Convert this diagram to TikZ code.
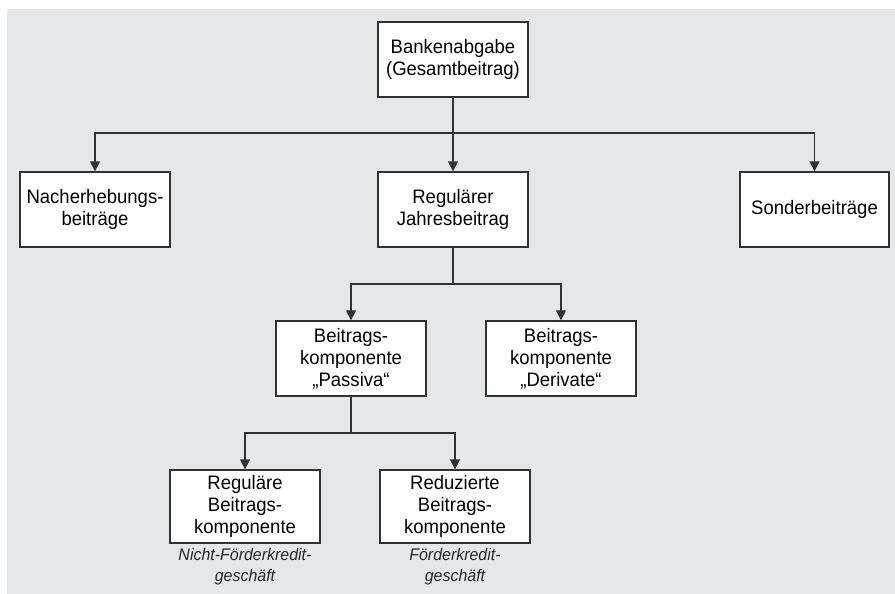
\documentclass[tikz,border=0pt]{standalone}
\usepackage{fontspec}
\setmainfont{Liberation Sans}[FakeStretch=0.95]
\usetikzlibrary{arrows.meta}
\definecolor{bggray}{RGB}{230,231,233}
\definecolor{linegray}{RGB}{50,50,50}
\tikzset{
  box/.style={draw=linegray, line width=1.3pt, fill=white, minimum width=150pt, minimum height=75pt,
    align=center, inner xsep=1pt, inner ysep=2pt, font=\fontsize{19.5}{22}\selectfont, text=black},
  conn/.style={draw=linegray, line width=1.3pt},
  arr/.style={conn, -{Triangle[width=10pt,length=10pt]}},
  note/.style={align=center, font=\fontsize{16.8}{21.5}\selectfont\itshape, text=black!85, inner sep=0pt}
}
\begin{document}
\begin{tikzpicture}[x=1pt,y=-1pt]
\useasboundingbox (0,0) rectangle (895,594);
\fill[bggray] (7,9) rectangle (895,594);

\node[box] (top) at (453,59.5) {Bankenabgabe\\(Gesamtbeitrag)};
\node[box] (nach) at (95,209.5) {Nacherhebungs-\\beiträge};
\node[box] (reg) at (453,209.5) {Regulärer\\Jahresbeitrag};
\node[box, minimum width=149pt] (sond) at (814.5,209.5) {Sonderbeiträge};
\node[box] (pass) at (351,358.5) {Beitrags-\\komponente\\„Passiva“};
\node[box] (deri) at (561,358.5) {Beitrags-\\komponente\\„Derivate“};
\node[box, minimum height=73pt] (regk) at (245,506.5) {Reguläre\\Beitrags-\\komponente};
\node[box, minimum height=73pt] (redk) at (455,506.5) {Reduzierte\\Beitrags-\\komponente};
\node[note, anchor=north] (n1) at (245,548) {Nicht-Förderkredit-\\geschäft};
\node[note, anchor=north] (n2) at (455,548) {Förderkredit-\\geschäft};

\coordinate (j1) at (453,133);
\coordinate (j2) at (453,284);
\coordinate (j3) at (351,433);

\draw[arr] (top.south) -- (reg.north);
\draw[arr] (j1) -| (nach.north);
\draw[arr] (j1) -| (sond.north);

\draw[conn] (reg.south) -- (j2);
\draw[arr] (j2) -| (pass.north);
\draw[arr] (j2) -| (deri.north);

\draw[conn] (pass.south) -- (j3);
\draw[arr] (j3) -| (regk.north);
\draw[arr] (j3) -| (redk.north);
\end{tikzpicture}
\end{document}
